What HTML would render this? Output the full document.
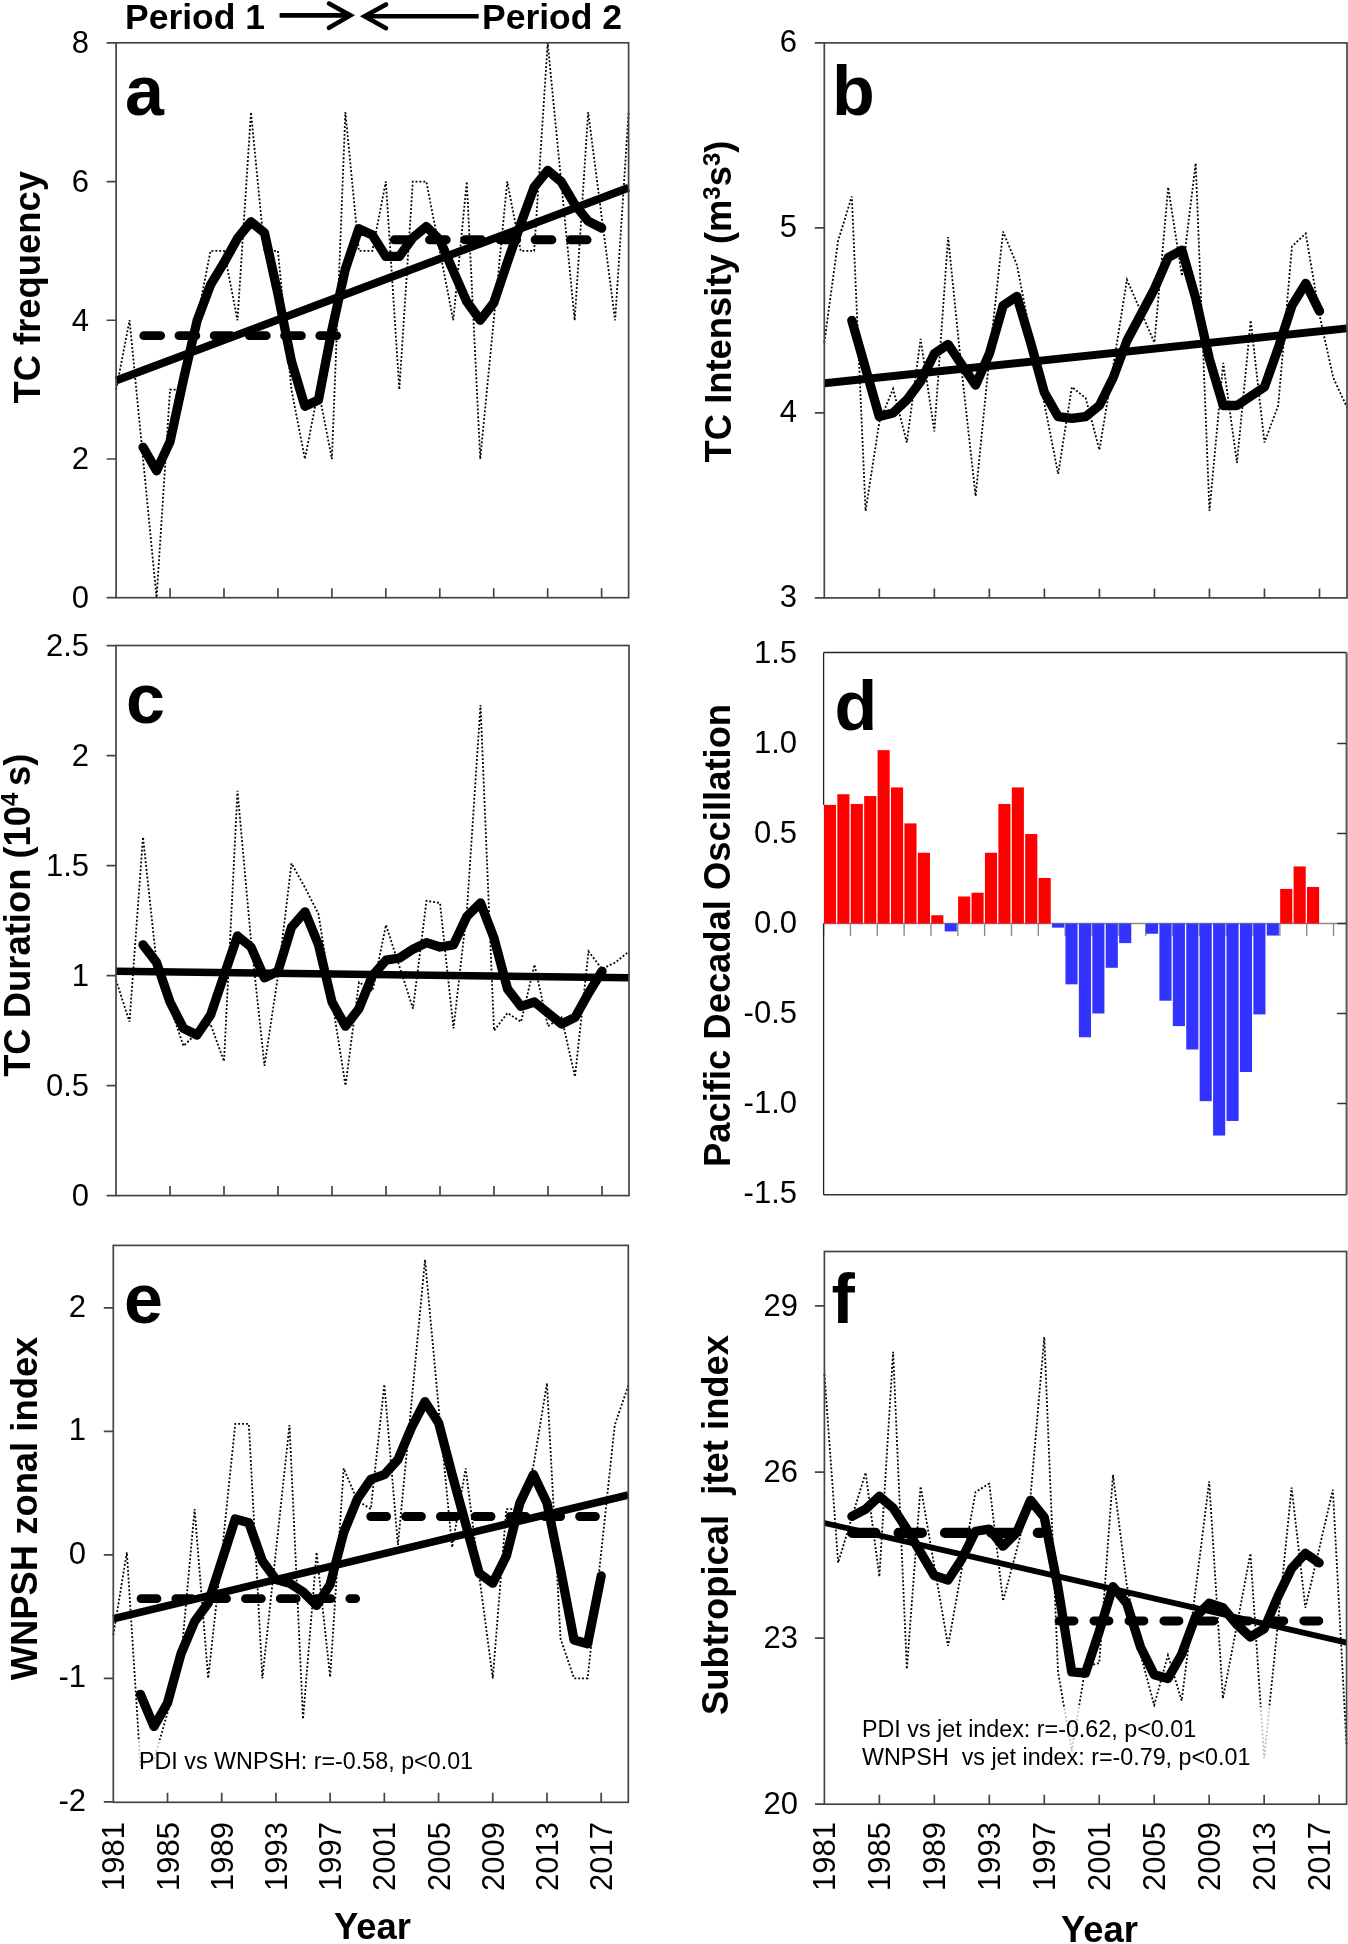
<!DOCTYPE html>
<html><head><meta charset="utf-8"><style>
html,body{margin:0;padding:0;background:#fff;overflow:hidden;}
svg{display:block;will-change:transform;}
text{white-space:pre;}
.n{font-family:"Liberation Sans",sans-serif;font-size:31px;fill:#000;}
.t{font-family:"Liberation Sans",sans-serif;font-size:36.4px;font-weight:bold;fill:#000;}
.P{font-family:"Liberation Sans",sans-serif;font-size:35.5px;font-weight:bold;fill:#000;}
.L{font-family:"Liberation Sans",sans-serif;font-size:70px;font-weight:bold;fill:#000;}
.s{font-family:"Liberation Sans",sans-serif;font-size:23.3px;fill:#000;}
</style></head><body>
<svg xmlns="http://www.w3.org/2000/svg" width="1348" height="1944" viewBox="0 0 1348 1944">
<rect width="1348" height="1944" fill="#fff"/>
<text x="125" y="28.5" class="P">Period 1</text>
<text x="482" y="28.5" class="P">Period 2</text>
<path d="M279.6,15.4H350" stroke="#000" stroke-width="4.6" fill="none"/>
<path d="M329,3.6L350.4,15.4L329,27.8" stroke="#000" stroke-width="4.6" fill="none" stroke-linecap="round" stroke-linejoin="miter"/>
<path d="M364.5,16.3H478.7" stroke="#000" stroke-width="4.6" fill="none"/>
<path d="M386,4.5L364.6,16.3L386,28.2" stroke="#000" stroke-width="4.6" fill="none" stroke-linecap="round" stroke-linejoin="miter"/>
<polyline points="116.1,389.62 129.59,320.26 143.07,458.98 156.56,597.7 170.05,389.62 183.53,389.62 197.02,320.26 210.51,250.9 223.99,250.9 237.48,320.26 250.97,112.18 264.46,250.9 277.94,250.9 291.43,389.62 304.92,458.98 318.4,389.62 331.89,458.98 345.38,112.18 358.86,250.9 372.35,250.9 385.84,181.54 399.32,389.62 412.81,181.54 426.3,181.54 439.78,250.9 453.27,320.26 466.76,181.54 480.24,458.98 493.73,320.26 507.22,181.54 520.71,250.9 534.19,250.9 547.68,42.82 561.17,181.54 574.65,320.26 588.14,112.18 601.63,216.22 615.11,320.26 628.6,112.18" fill="none" stroke="#000" stroke-width="1.8" stroke-dasharray="1.9,2.0" />
<line x1="116.1" y1="380.6" x2="628.6" y2="187.78" stroke="#000" stroke-width="8.0"/>
<line x1="143.8" y1="335.66" x2="338" y2="335.66" stroke="#000" stroke-width="8.9" stroke-linecap="round" stroke-dasharray="16.8,18.4"/>
<line x1="394.3" y1="239.8" x2="592" y2="239.8" stroke="#000" stroke-width="8.9" stroke-linecap="round" stroke-dasharray="16.8,18.4"/>
<polyline points="143.07,447.19 156.56,470.77 170.05,441.64 183.53,379.22 197.02,320.95 210.51,284.89 223.99,262.69 237.48,238.42 250.97,221.77 264.46,232.87 277.94,293.9 291.43,361.18 304.92,406.27 318.4,400.02 331.89,329.97 345.38,268.93 358.86,228.7 372.35,234.95 385.84,256.45 399.32,256.45 412.81,237.72 426.3,226.62 439.78,239.8 453.27,271.01 466.76,301.53 480.24,320.26 493.73,302.92 507.22,262.69 520.71,223.85 534.19,187.09 547.68,170.44 561.17,181.54 574.65,204.43 588.14,221.08 601.63,228.01" fill="none" stroke="#000" stroke-width="9.3" stroke-linejoin="round" stroke-linecap="round"/>
<rect x="116.1" y="42.8" width="512.5" height="554.9" fill="none" stroke="#444444" stroke-width="1.7"/>
<path d="M106.6,597.7H116.1M106.6,458.98H116.1M106.6,320.26H116.1M106.6,181.54H116.1M106.6,42.82H116.1M170.05,597.7V588.2M223.99,597.7V588.2M277.94,597.7V588.2M331.89,597.7V588.2M385.84,597.7V588.2M439.78,597.7V588.2M493.73,597.7V588.2M547.68,597.7V588.2M601.63,597.7V588.2" stroke="#444444" stroke-width="1.7" fill="none"/>
<text x="89" y="608.2" text-anchor="end" class="n">0</text>
<text x="89" y="469.48" text-anchor="end" class="n">2</text>
<text x="89" y="330.76" text-anchor="end" class="n">4</text>
<text x="89" y="192.04" text-anchor="end" class="n">6</text>
<text x="89" y="53.32" text-anchor="end" class="n">8</text>
<text x="125" y="115" class="L">a</text>
<text transform="translate(40,287.3) rotate(-90)" text-anchor="middle" class="t">TC frequency</text>
<polyline points="824.3,342.6 838.06,240.85 851.81,196.45 865.57,510.95 879.32,422.15 893.08,388.85 906.83,442.5 920.59,338.9 934.34,431.4 948.1,237.15 961.85,372.2 975.61,496.15 989.36,357.4 1003.12,231.6 1016.87,264.9 1030.63,335.2 1044.38,403.65 1058.14,473.95 1071.89,387 1085.65,398.1 1099.41,449.9 1113.16,366.65 1126.92,279.7 1140.67,311.15 1154.43,342.6 1168.18,187.2 1181.94,276 1195.69,163.15 1209.45,510.95 1223.2,362.95 1236.96,462.85 1250.71,320.4 1264.47,442.5 1278.22,405.5 1291.98,246.4 1305.73,233.45 1319.49,314.85 1333.24,377.75 1347,407.35" fill="none" stroke="#000" stroke-width="1.8" stroke-dasharray="1.9,2.0" />
<line x1="824.3" y1="383.3" x2="1347" y2="328.36" stroke="#000" stroke-width="8.0"/>
<polyline points="851.81,320.4 865.57,368.5 879.32,416.6 893.08,412.9 906.83,399.95 920.59,381.45 934.34,353.7 948.1,344.45 961.85,364.8 975.61,385.15 989.36,353.7 1003.12,305.6 1016.87,296.35 1030.63,342.6 1044.38,392.55 1058.14,416.6 1071.89,418.45 1085.65,416.6 1099.41,405.5 1113.16,377.75 1126.92,340.75 1140.67,314.85 1154.43,288.95 1168.18,257.5 1181.94,250.1 1195.69,298.2 1209.45,359.25 1223.2,405.5 1236.96,405.5 1250.71,396.25 1264.47,387 1278.22,348.15 1291.98,305.6 1305.73,283.4 1319.49,311.15" fill="none" stroke="#000" stroke-width="9.3" stroke-linejoin="round" stroke-linecap="round"/>
<rect x="824.3" y="42.9" width="522.7" height="555" fill="none" stroke="#444444" stroke-width="1.7"/>
<path d="M814.8,597.9H824.3M814.8,412.9H824.3M814.8,227.9H824.3M814.8,42.9H824.3M879.32,597.9V588.4M934.34,597.9V588.4M989.36,597.9V588.4M1044.38,597.9V588.4M1099.41,597.9V588.4M1154.43,597.9V588.4M1209.45,597.9V588.4M1264.47,597.9V588.4M1319.49,597.9V588.4" stroke="#444444" stroke-width="1.7" fill="none"/>
<text x="797" y="607.3" text-anchor="end" class="n">3</text>
<text x="797" y="422.3" text-anchor="end" class="n">4</text>
<text x="797" y="237.3" text-anchor="end" class="n">5</text>
<text x="797" y="52.3" text-anchor="end" class="n">6</text>
<text x="832" y="115" class="L">b</text>
<text transform="translate(731,301.5) rotate(-90)" text-anchor="middle" class="t">TC Intensity (m<tspan dy="-10.8" font-size="24">3</tspan><tspan dy="10.8">s</tspan><tspan dy="-10.8" font-size="24">3</tspan><tspan dy="10.8">)</tspan></text>
<polyline points="116,980 129.5,1021.8 143,837 156.5,962.4 170,1006.4 183.5,1046 197,1032.8 210.5,1024 224,1061.4 237.5,790.8 251,940.4 264.5,1065.8 278,975.6 291.5,863.4 305,887.6 318.5,914 332,999.8 345.5,1085.6 359,982.2 372.5,991 386,925 399.5,966.8 413,1008.6 426.5,900.8 440,903 453.5,1028.4 467,909.6 480.5,705 494,1030.6 507.5,1013 521,1021.8 534.5,964.6 548,1026.2 561.5,1017.4 575,1076.8 588.5,951.4 602,969 615.5,962.4 629,951.4" fill="none" stroke="#000" stroke-width="1.8" stroke-dasharray="1.9,2.0" />
<line x1="116" y1="971.2" x2="629" y2="977.8" stroke="#000" stroke-width="7.5"/>
<polyline points="143,944.8 156.5,962.4 170,1002 183.5,1028.4 197,1035 210.5,1015.2 224,975.6 237.5,936 251,947 264.5,977.8 278,971.2 291.5,927.2 305,911.8 318.5,944.8 332,1002 345.5,1026.2 359,1008.6 372.5,975.6 386,960.2 399.5,958 413,949.2 426.5,942.6 440,947 453.5,944.8 467,916.2 480.5,903 494,938.2 507.5,988.8 521,1006.4 534.5,1002 548,1013 561.5,1024 575,1017.4 588.5,993.2 602,971.2" fill="none" stroke="#000" stroke-width="9.3" stroke-linejoin="round" stroke-linecap="round"/>
<rect x="116" y="645.5" width="513" height="550.1" fill="none" stroke="#444444" stroke-width="1.7"/>
<path d="M106.5,1195.6H116M106.5,1085.6H116M106.5,975.6H116M106.5,865.6H116M106.5,755.6H116M106.5,645.6H116M170,1195.6V1186.1M224,1195.6V1186.1M278,1195.6V1186.1M332,1195.6V1186.1M386,1195.6V1186.1M440,1195.6V1186.1M494,1195.6V1186.1M548,1195.6V1186.1M602,1195.6V1186.1" stroke="#444444" stroke-width="1.7" fill="none"/>
<text x="89" y="1206.1" text-anchor="end" class="n">0</text>
<text x="89" y="1096.1" text-anchor="end" class="n">0.5</text>
<text x="89" y="986.1" text-anchor="end" class="n">1</text>
<text x="89" y="876.1" text-anchor="end" class="n">1.5</text>
<text x="89" y="766.1" text-anchor="end" class="n">2</text>
<text x="89" y="656.1" text-anchor="end" class="n">2.5</text>
<text x="126" y="723" class="L">c</text>
<text transform="translate(29.5,915.2) rotate(-90)" text-anchor="middle" class="t">TC Duration (10<tspan dy="-11.7" font-size="24">4 </tspan><tspan dy="11.7">s)</tspan></text>
<line x1="823.6" y1="923.5" x2="1346.6" y2="923.5" stroke="#8c8c8c" stroke-width="1.4"/>
<path d="M823.6,923.5V936.0M850.44,923.5V936.0M877.28,923.5V936.0M904.12,923.5V936.0M930.96,923.5V936.0M957.8,923.5V936.0M984.64,923.5V936.0M1011.48,923.5V936.0M1038.32,923.5V936.0M1065.16,923.5V936.0M1092,923.5V936.0M1118.84,923.5V936.0M1145.68,923.5V936.0M1172.52,923.5V936.0M1199.36,923.5V936.0M1226.2,923.5V936.0M1253.04,923.5V936.0M1279.88,923.5V936.0M1306.72,923.5V936.0M1333.56,923.5V936.0" stroke="#8c8c8c" stroke-width="1.4" fill="none"/>
<rect x="823.9" y="804.88" width="12.12" height="118.62" fill="#ff0000"/>
<rect x="837.32" y="794.26" width="12.12" height="129.24" fill="#ff0000"/>
<rect x="850.74" y="803.98" width="12.12" height="119.52" fill="#ff0000"/>
<rect x="864.16" y="796.06" width="12.12" height="127.44" fill="#ff0000"/>
<rect x="877.58" y="750.16" width="12.12" height="173.34" fill="#ff0000"/>
<rect x="891" y="787.42" width="12.12" height="136.08" fill="#ff0000"/>
<rect x="904.42" y="823.42" width="12.12" height="100.08" fill="#ff0000"/>
<rect x="917.84" y="852.76" width="12.12" height="70.74" fill="#ff0000"/>
<rect x="931.26" y="915.22" width="12.12" height="8.28" fill="#ff0000"/>
<rect x="944.68" y="923.5" width="12.12" height="7.92" fill="#3333ff"/>
<rect x="958.1" y="896.5" width="12.12" height="27" fill="#ff0000"/>
<rect x="971.52" y="892.72" width="12.12" height="30.78" fill="#ff0000"/>
<rect x="984.94" y="852.76" width="12.12" height="70.74" fill="#ff0000"/>
<rect x="998.36" y="803.98" width="12.12" height="119.52" fill="#ff0000"/>
<rect x="1011.78" y="787.42" width="12.12" height="136.08" fill="#ff0000"/>
<rect x="1025.2" y="834.04" width="12.12" height="89.46" fill="#ff0000"/>
<rect x="1038.62" y="877.96" width="12.12" height="45.54" fill="#ff0000"/>
<rect x="1052.04" y="923.5" width="12.12" height="4.14" fill="#3333ff"/>
<rect x="1065.46" y="923.5" width="12.12" height="60.84" fill="#3333ff"/>
<rect x="1078.88" y="923.5" width="12.12" height="113.76" fill="#3333ff"/>
<rect x="1092.3" y="923.5" width="12.12" height="90" fill="#3333ff"/>
<rect x="1105.72" y="923.5" width="12.12" height="44.28" fill="#3333ff"/>
<rect x="1119.14" y="923.5" width="12.12" height="19.62" fill="#3333ff"/>
<rect x="1145.98" y="923.5" width="12.12" height="10.26" fill="#3333ff"/>
<rect x="1159.4" y="923.5" width="12.12" height="77.22" fill="#3333ff"/>
<rect x="1172.82" y="923.5" width="12.12" height="102.6" fill="#3333ff"/>
<rect x="1186.24" y="923.5" width="12.12" height="126" fill="#3333ff"/>
<rect x="1199.66" y="923.5" width="12.12" height="177.66" fill="#3333ff"/>
<rect x="1213.08" y="923.5" width="12.12" height="212.04" fill="#3333ff"/>
<rect x="1226.5" y="923.5" width="12.12" height="197.46" fill="#3333ff"/>
<rect x="1239.92" y="923.5" width="12.12" height="148.5" fill="#3333ff"/>
<rect x="1253.34" y="923.5" width="12.12" height="90.9" fill="#3333ff"/>
<rect x="1266.76" y="923.5" width="12.12" height="12.06" fill="#3333ff"/>
<rect x="1280.18" y="888.94" width="12.12" height="34.56" fill="#ff0000"/>
<rect x="1293.6" y="866.44" width="12.12" height="57.06" fill="#ff0000"/>
<rect x="1307.02" y="886.96" width="12.12" height="36.54" fill="#ff0000"/>
<path d="M823.6,652.4H1346.6" stroke="#222" stroke-width="1.5"/>
<path d="M823.6,1194.7H1346.6" stroke="#333" stroke-width="1.6"/>
<path d="M1346.6,652.4V1194.7" stroke="#555" stroke-width="2"/>
<path d="M823.6,652.4V804.88M823.6,923.5V1194.7" stroke="#222" stroke-width="1.3"/>
<path d="M1337.1,743.5H1346.6M1337.1,833.5H1346.6M1337.1,923.5H1346.6M1337.1,1013.5H1346.6M1337.1,1103.5H1346.6" stroke="#333" stroke-width="1.6" fill="none"/>
<text x="797" y="663.1" text-anchor="end" class="n">1.5</text>
<text x="797" y="753.1" text-anchor="end" class="n">1.0</text>
<text x="797" y="843.1" text-anchor="end" class="n">0.5</text>
<text x="797" y="933.1" text-anchor="end" class="n">0.0</text>
<text x="797" y="1023.1" text-anchor="end" class="n">-0.5</text>
<text x="797" y="1113.1" text-anchor="end" class="n">-1.0</text>
<text x="797" y="1203.1" text-anchor="end" class="n">-1.5</text>
<text x="834.5" y="730" class="L">d</text>
<text transform="translate(730.3,935.5) rotate(-90)" text-anchor="middle" class="t">Pacific Decadal Oscillation</text>
<polyline points="113.3,1635.08 126.85,1552.33 140.41,1764.75 153.96,1759.81 167.51,1712.88 181.06,1658.54 194.62,1509.11 208.17,1678.3 221.72,1554.8 235.27,1423.89 248.83,1423.89 262.38,1678.3 275.93,1551.1 289.48,1425.12 303.04,1719.05 316.59,1552.33 330.14,1677.07 343.69,1468.35 357.25,1500.46 370.8,1509.11 384.35,1384.37 397.91,1544.92 411.46,1402.89 425.01,1259.63 438.56,1406.6 452.12,1547.39 465.67,1468.35 479.22,1575.79 492.77,1678.3 506.33,1509.11 519.88,1509.11 533.43,1465.88 546.98,1383.13 560.54,1638.78 574.09,1678.3 587.64,1678.3 601.19,1552.33 614.75,1425.12 628.3,1385.61" fill="none" stroke="#000" stroke-width="1.8" stroke-dasharray="1.9,2.0" />
<rect x="136" y="1740" width="345" height="40" fill="#fff" fill-opacity="0.75"/>
<line x1="113.3" y1="1618.65" x2="628.3" y2="1494.9" stroke="#000" stroke-width="7.7"/>
<line x1="141.1" y1="1598.64" x2="355.6" y2="1598.64" stroke="#000" stroke-width="8.9" stroke-linecap="round" stroke-dasharray="15.8,19.0"/>
<line x1="370.8" y1="1516.51" x2="598" y2="1516.51" stroke="#000" stroke-width="8.9" stroke-linecap="round" stroke-dasharray="15.8,19.0"/>
<polyline points="140.41,1694.36 153.96,1726.46 167.51,1703 181.06,1653.6 194.62,1621.49 208.17,1602.96 221.72,1560.97 235.27,1518.98 248.83,1522.69 262.38,1560.97 275.93,1579.5 289.48,1583.2 303.04,1591.85 316.59,1605.43 330.14,1584.44 343.69,1532.57 357.25,1499.22 370.8,1479.46 384.35,1474.52 397.91,1459.7 411.46,1427.6 425.01,1401.66 438.56,1422.65 452.12,1474.52 465.67,1523.92 479.22,1573.33 492.77,1583.2 506.33,1556.03 519.88,1502.93 533.43,1474.52 546.98,1502.93 560.54,1569.62 574.09,1640.01 587.64,1643.72 601.19,1575.79" fill="none" stroke="#000" stroke-width="9.3" stroke-linejoin="round" stroke-linecap="round"/>
<rect x="113.3" y="1245.4" width="515" height="556.9" fill="none" stroke="#444444" stroke-width="1.7"/>
<path d="M103.8,1801.8H113.3M103.8,1678.3H113.3M103.8,1554.8H113.3M103.8,1431.3H113.3M103.8,1307.8H113.3M167.51,1802.3V1792.8M221.72,1802.3V1792.8M275.93,1802.3V1792.8M330.14,1802.3V1792.8M384.35,1802.3V1792.8M438.56,1802.3V1792.8M492.77,1802.3V1792.8M546.98,1802.3V1792.8M601.19,1802.3V1792.8" stroke="#444444" stroke-width="1.7" fill="none"/>
<text x="86" y="1810.6" text-anchor="end" class="n">-2</text>
<text x="86" y="1687.1" text-anchor="end" class="n">-1</text>
<text x="86" y="1563.6" text-anchor="end" class="n">0</text>
<text x="86" y="1440.1" text-anchor="end" class="n">1</text>
<text x="86" y="1316.6" text-anchor="end" class="n">2</text>
<text transform="translate(124.3,1822) rotate(-90)" text-anchor="end" class="n">1981</text>
<text transform="translate(178.51,1822) rotate(-90)" text-anchor="end" class="n">1985</text>
<text transform="translate(232.72,1822) rotate(-90)" text-anchor="end" class="n">1989</text>
<text transform="translate(286.93,1822) rotate(-90)" text-anchor="end" class="n">1993</text>
<text transform="translate(341.14,1822) rotate(-90)" text-anchor="end" class="n">1997</text>
<text transform="translate(395.35,1822) rotate(-90)" text-anchor="end" class="n">2001</text>
<text transform="translate(449.56,1822) rotate(-90)" text-anchor="end" class="n">2005</text>
<text transform="translate(503.77,1822) rotate(-90)" text-anchor="end" class="n">2009</text>
<text transform="translate(557.98,1822) rotate(-90)" text-anchor="end" class="n">2013</text>
<text transform="translate(612.19,1822) rotate(-90)" text-anchor="end" class="n">2017</text>
<text x="124" y="1323" class="L">e</text>
<text transform="translate(37,1508.5) rotate(-90)" text-anchor="middle" class="t">WNPSH zonal index</text>
<text x="139" y="1768.6" class="s">PDI vs WNPSH: r=-0.58, p&lt;0.01</text>
<text x="372.5" y="1938.5" text-anchor="middle" class="t">Year</text>
<polyline points="824.4,1374.05 838.14,1562.83 851.88,1517.44 865.63,1472.59 879.37,1576.67 893.11,1351.91 906.85,1669.12 920.59,1486.43 934.34,1566.15 948.08,1645.87 961.82,1568.92 975.56,1491.97 989.31,1483.67 1003.05,1601.03 1016.79,1549.54 1030.53,1496.4 1044.27,1336.96 1058.02,1671.89 1071.76,1751.05 1085.5,1666.91 1099.24,1663.03 1112.98,1474.81 1126.73,1584.42 1140.47,1654.17 1154.21,1705.11 1167.95,1655.28 1181.69,1700.68 1195.44,1591.06 1209.18,1481.45 1222.92,1698.46 1236.66,1626.49 1250.41,1553.42 1264.15,1758.25 1277.89,1623.17 1291.63,1487.54 1305.37,1607.67 1319.12,1548.99 1332.86,1489.76 1346.6,1746.07" fill="none" stroke="#000" stroke-width="1.8" stroke-dasharray="1.9,2.0" />
<rect x="858" y="1707" width="415" height="66" fill="#fff" fill-opacity="0.75"/>
<line x1="824.4" y1="1522.97" x2="1346.6" y2="1642.55" stroke="#000" stroke-width="5.8"/>
<line x1="852.2" y1="1532.94" x2="1041" y2="1532.94" stroke="#000" stroke-width="10.2" stroke-linecap="round" stroke-dasharray="23.3,23.1"/>
<line x1="1059" y1="1620.96" x2="1318.8" y2="1620.96" stroke="#000" stroke-width="8.9" stroke-linecap="round" stroke-dasharray="15.0,19.97"/>
<polyline points="851.88,1516.33 865.63,1509.13 879.37,1496.4 893.11,1508.02 906.85,1529.06 920.59,1552.31 934.34,1575.56 948.08,1579.99 961.82,1558.96 975.56,1531.28 989.31,1529.06 1003.05,1546.22 1016.79,1532.38 1030.53,1500.27 1044.27,1517.44 1058.02,1587.74 1071.76,1671.89 1085.5,1673 1099.24,1631.48 1112.98,1586.64 1126.73,1603.24 1140.47,1646.98 1154.21,1674.66 1167.95,1678.53 1181.69,1654.17 1195.44,1617.08 1209.18,1603.24 1222.92,1607.67 1236.66,1624.28 1250.41,1637.01 1264.15,1628.71 1277.89,1596.6 1291.63,1568.37 1305.37,1553.42 1319.12,1562.83" fill="none" stroke="#000" stroke-width="9.3" stroke-linejoin="round" stroke-linecap="round"/>
<rect x="824.4" y="1251.5" width="522.2" height="552.7" fill="none" stroke="#444444" stroke-width="1.7"/>
<path d="M814.9,1804.2H824.4M814.9,1638.12H824.4M814.9,1472.04H824.4M814.9,1305.96H824.4M879.37,1804.2V1794.7M934.34,1804.2V1794.7M989.31,1804.2V1794.7M1044.27,1804.2V1794.7M1099.24,1804.2V1794.7M1154.21,1804.2V1794.7M1209.18,1804.2V1794.7M1264.15,1804.2V1794.7M1319.12,1804.2V1794.7" stroke="#444444" stroke-width="1.7" fill="none"/>
<text x="798" y="1814.3" text-anchor="end" class="n">20</text>
<text x="798" y="1648.22" text-anchor="end" class="n">23</text>
<text x="798" y="1482.14" text-anchor="end" class="n">26</text>
<text x="798" y="1316.06" text-anchor="end" class="n">29</text>
<text transform="translate(835.4,1822) rotate(-90)" text-anchor="end" class="n">1981</text>
<text transform="translate(890.37,1822) rotate(-90)" text-anchor="end" class="n">1985</text>
<text transform="translate(945.34,1822) rotate(-90)" text-anchor="end" class="n">1989</text>
<text transform="translate(1000.31,1822) rotate(-90)" text-anchor="end" class="n">1993</text>
<text transform="translate(1055.27,1822) rotate(-90)" text-anchor="end" class="n">1997</text>
<text transform="translate(1110.24,1822) rotate(-90)" text-anchor="end" class="n">2001</text>
<text transform="translate(1165.21,1822) rotate(-90)" text-anchor="end" class="n">2005</text>
<text transform="translate(1220.18,1822) rotate(-90)" text-anchor="end" class="n">2009</text>
<text transform="translate(1275.15,1822) rotate(-90)" text-anchor="end" class="n">2013</text>
<text transform="translate(1330.12,1822) rotate(-90)" text-anchor="end" class="n">2017</text>
<text x="831.5" y="1323" class="L">f</text>
<text transform="translate(727.7,1525) rotate(-90)" text-anchor="middle" class="t">Subtropical  jtet index</text>
<text x="862" y="1736.8" class="s">PDI vs jet index: r=-0.62, p&lt;0.01</text>
<text x="862" y="1764.8" class="s" xml:space="preserve">WNPSH  vs jet index: r=-0.79, p&lt;0.01</text>
<text x="1099.5" y="1942.3" text-anchor="middle" class="t">Year</text>
</svg></body></html>
